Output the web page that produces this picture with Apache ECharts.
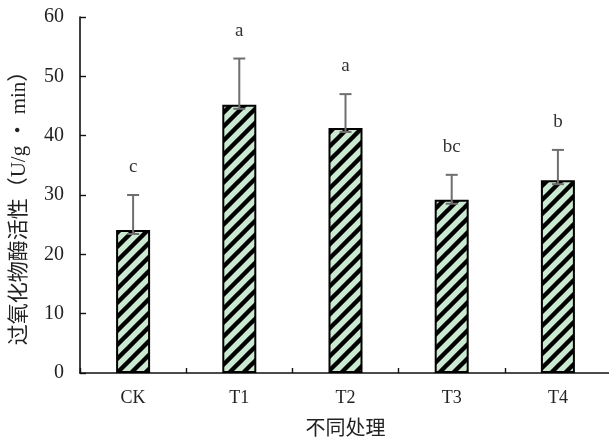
<!DOCTYPE html>
<html>
<head>
<meta charset="utf-8">
<script src="https://cdn.jsdelivr.net/npm/echarts@6/dist/echarts.min.js"></script>
<style>
  html, body { margin: 0; padding: 0; background: #fff; }
  #chart { width: 609px; height: 439px; }
</style>
</head>
<body>
<div id="chart"></div>
<script>
// Peroxidase activity by treatment
var categories = ['CK', 'T1', 'T2', 'T3', 'T4'];
var means = [24.1, 45.2, 41.3, 29.2, 32.5];
var errors = [5.9, 7.8, 5.7, 4.2, 5.1];
var letters = ['c', 'a', 'a', 'bc', 'b'];
var yTicks = [0, 10, 20, 30, 40, 50, 60];

// Diagonal hatch tile: light green ground with black "/" stripes
function makeHatch() {
  var s = 14;
  var c = document.createElement('canvas');
  c.width = s; c.height = s;
  var g = c.getContext('2d');
  g.fillStyle = '#cbe8d0';
  g.fillRect(0, 0, s, s);
  g.strokeStyle = '#000';
  g.lineWidth = 4.4;
  g.beginPath();
  g.moveTo(-s, s); g.lineTo(s, -s);
  g.moveTo(0, 2 * s); g.lineTo(2 * s, 0);
  g.moveTo(-s, 2 * s); g.lineTo(2 * s, -s);
  g.stroke();
  return c;
}

var serif = '"Liberation Serif", "DejaVu Serif", serif';
var cjk = '"Noto Sans CJK SC", sans-serif';
var mixed = '"Liberation Serif", "Noto Sans CJK SC", serif';

var chart = echarts.init(document.getElementById('chart'), null, { renderer: 'canvas' });

chart.setOption({
  animation: false,
  grid: { left: 80, top: 17, right: -2, bottom: 66, containLabel: false, outerBoundsMode: 'none' },
  xAxis: {
    type: 'category',
    data: categories,
    name: '不同处理',
    nameLocation: 'middle',
    nameGap: 44,
    nameTextStyle: { fontFamily: cjk, fontSize: 20, color: '#222' },
    axisLine: { lineStyle: { color: '#111', width: 1.6 } },
    axisTick: { show: true, inside: true, length: 5, alignWithLabel: false, lineStyle: { color: '#111', width: 1.4 } },
    axisLabel: { fontFamily: serif, fontSize: 18, color: '#222', margin: 16 }
  },
  yAxis: {
    type: 'value',
    min: yTicks[0],
    max: yTicks[yTicks.length - 1],
    interval: 10,
    name: '过氧化物酶活性（U/g ・ min）',
    nameLocation: 'middle',
    nameGap: 50,
    nameRotate: 90,
    nameTextStyle: { fontFamily: mixed, fontSize: 21, color: '#222', padding: [0, 16, 0, 0] },
    splitLine: { show: false },
    axisLine: { show: true, lineStyle: { color: '#111', width: 1.6 } },
    axisTick: { show: true, inside: true, length: 6, lineStyle: { color: '#111', width: 1.4 } },
    axisLabel: { fontFamily: serif, fontSize: 20, color: '#222', margin: 16 }
  },
  series: [
    {
      type: 'bar',
      data: means,
      barWidth: 34,
      itemStyle: {
        color: { image: makeHatch(), repeat: 'repeat' },
        borderColor: '#000',
        borderWidth: 2
      },
      z: 2
    },
    {
      type: 'custom',
      data: means.map(function (m, i) { return [i, m, m + errors[i], letters[i]]; }),
      renderItem: function (params, api) {
        var base = api.coord([api.value(0), api.value(1)]);
        var top = api.coord([api.value(0), api.value(2)]);
        var x = base[0];
        var lowY = base[1] + 4;
        var half = 6;
        var st = { stroke: '#6e6e6e', lineWidth: 2 };
        return {
          type: 'group',
          children: [
            { type: 'line', shape: { x1: x, y1: lowY, x2: x, y2: top[1] }, style: st },
            { type: 'line', shape: { x1: x - half, y1: top[1], x2: x + half, y2: top[1] }, style: st },
            { type: 'line', shape: { x1: x - half, y1: lowY, x2: x + half, y2: lowY }, style: st },
            {
              type: 'text',
              x: x, y: top[1] - 28,
              style: {
                text: api.value(3),
                fontFamily: serif, fontSize: 19, fill: '#333',
                textAlign: 'center', textVerticalAlign: 'middle'
              }
            }
          ]
        };
      },
      z: 5
    }
  ]
});
</script>
</body>
</html>
